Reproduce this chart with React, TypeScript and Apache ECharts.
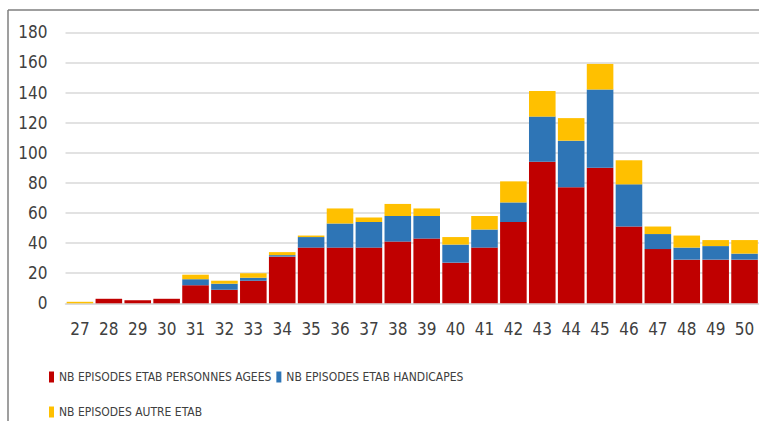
import React, { useEffect, useRef } from "react";
import * as echarts from "echarts";

const categories = ["27","28","29","30","31","32","33","34","35","36","37","38","39","40","41","42","43","44","45","46","47","48","49","50"];
const personnesAgees = [0,3,2,3,12,9,15,31,37,37,37,41,43,27,37,54,94,77,90,51,36,29,29,29];
const handicapes = [0,0,0,0,4,4,2,1,7,16,17,17,15,12,12,13,30,31,52,28,10,8,9,4];
const autreEtab = [1,0,0,0,3,2,3,2,1,10,3,8,5,5,9,14,17,15,17,16,5,8,4,9];
const seriesNames = [
  "NB EPISODES ETAB PERSONNES AGEES",
  "NB EPISODES ETAB HANDICAPES",
  "NB EPISODES AUTRE ETAB",
];
const colors = ["#C00000", "#2E75B6", "#FFC000"];

const FONT = "'DejaVu Sans Condensed', 'Open Sans', sans-serif";
const TEXT = "#404040";

export default function App() {
  const ref = useRef<HTMLDivElement>(null);
  useEffect(() => {
    if (!ref.current) return;
    const chart = echarts.init(ref.current, null, { renderer: "svg" });
    const legendCommon = {
      left: 49,
      itemWidth: 5,
      itemHeight: 11,
      itemGap: 5,
      icon: "rect",
      textStyle: { color: TEXT, fontFamily: FONT, fontSize: 12 },
      padding: 0,
    };
    chart.setOption({
      animation: false,
      color: colors,
      grid: { left: 65.5, top: 32.3, width: 696, height: 271 },
      legend: [
        { ...legendCommon, top: 371, data: [seriesNames[0], seriesNames[1]] },
        { ...legendCommon, top: 406, data: [seriesNames[2]] },
      ],
      xAxis: {
        type: "category",
        data: categories,
        axisLine: { show: true, lineStyle: { color: "#D9D9D9", width: 1.5 } },
        axisTick: { show: false },
        axisLabel: { color: TEXT, fontFamily: FONT, fontSize: 17, margin: 17 },
      },
      yAxis: {
        type: "value",
        min: 0,
        max: 180,
        interval: 20,
        axisLine: { show: false },
        axisTick: { show: false },
        splitLine: { lineStyle: { color: "#D9D9D9", width: 1.5 } },
        axisLabel: { color: TEXT, fontFamily: FONT, fontSize: 17, margin: 18 },
      },
      series: [
        { name: seriesNames[0], type: "bar", stack: "t", data: personnesAgees, barCategoryGap: "8%" },
        { name: seriesNames[1], type: "bar", stack: "t", data: handicapes, barCategoryGap: "8%" },
        { name: seriesNames[2], type: "bar", stack: "t", data: autreEtab, barCategoryGap: "8%" },
      ],
      graphic: [
        { type: "line", shape: { x1: 8, y1: 10, x2: 8, y2: 421 }, style: { stroke: "#7F7F7F", lineWidth: 1.5 } },
        { type: "line", shape: { x1: 8, y1: 10, x2: 759, y2: 10 }, style: { stroke: "#7F7F7F", lineWidth: 1.5 } },
      ],
    });
    return () => chart.dispose();
  }, []);
  return (
    <div
      ref={ref}
      style={{ position: "fixed", left: 0, top: 0, width: 759, height: 421, background: "#fff" }}
    />
  );
}
